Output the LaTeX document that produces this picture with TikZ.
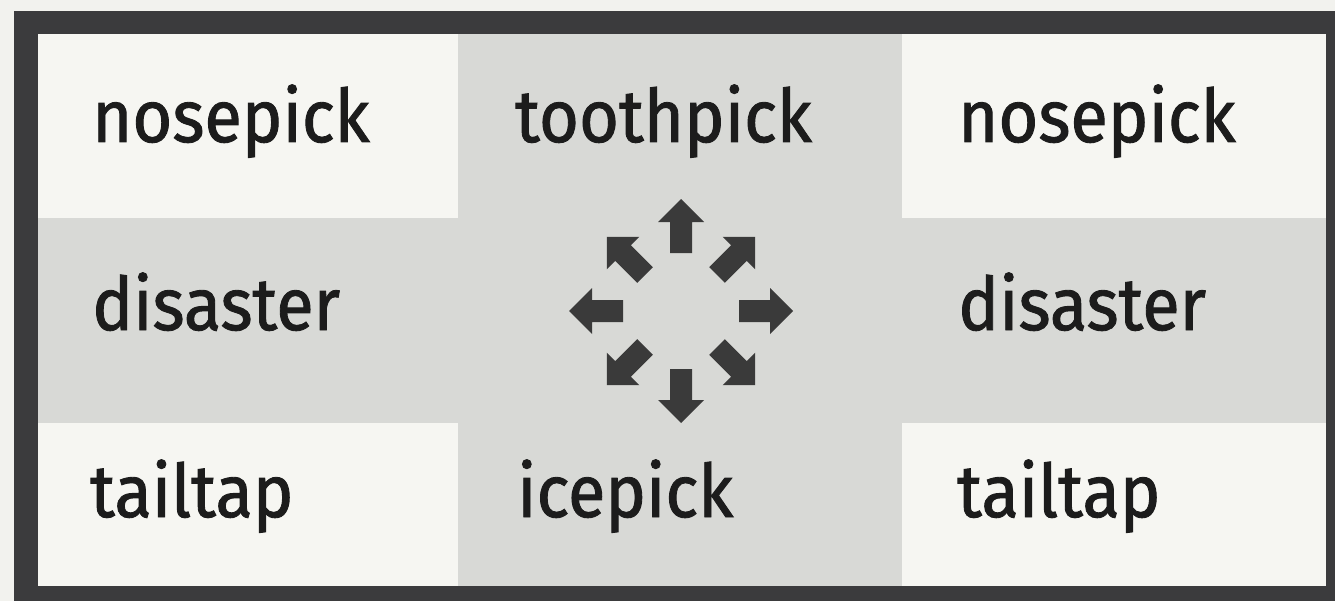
\documentclass[tikz,border=0pt]{standalone}
\usepackage{fontspec}
\setmainfont{Fira Sans}[FakeStretch=0.93,FakeBold=1.2]
\definecolor{paper}{HTML}{F2F2EE}
\definecolor{framec}{HTML}{3B3B3D}
\definecolor{cellw}{HTML}{F6F6F2}
\definecolor{cellg}{HTML}{D8D9D6}
\definecolor{arrowc}{HTML}{3A3A3A}
\definecolor{textc}{HTML}{1C1C1C}
\tikzset{
  lbl/.style={anchor=base west, inner sep=0pt, text=textc, font=\fontsize{74}{80}\selectfont},
  bigarrow/.pic={\fill[arrowc] (0,-11) -- (31,-11) -- (31,-23) -- (54,0) -- (31,23) -- (31,11) -- (0,11) -- cycle;}
}
\begin{document}
\begin{tikzpicture}[x=1bp,y=-1bp]
\useasboundingbox (0,0) rectangle (1335,601);
\clip (0,0) rectangle (1335,601);
\fill[paper] (0,0) rectangle (1335,601);
\fill[framec] (14,11) rectangle (1370,640);
\fill[cellw] (38,34) rectangle (1326,586);
\fill[cellg] (458,34) rectangle (902,586);
\fill[cellg] (38,218) rectangle (1326,423);
% labels
\node[lbl] (l1) at (92,142) {nosepick};
\node[lbl] (m1) at (515,142) {toothpick};
\node[lbl] (r1) at (958,142) {nosepick};
\node[lbl] (l2) at (92,330) {disaster};
\node[lbl] (r2) at (958,330) {disaster};
\node[lbl] (l3) at (90,517) {tailtap};
\node[lbl] (m3) at (517,517) {icepick};
\node[lbl] (r3) at (957,517) {tailtap};
% arrows
\coordinate (c) at (681,311);
\pic[rotate=0] at (739,311) {bigarrow};
\pic[rotate=90] at (681,253) {bigarrow};
\pic[rotate=180] at (623,311) {bigarrow};
\pic[rotate=-90] at (681,369) {bigarrow};
\pic[rotate=45] at (717,275) {bigarrow};
\pic[rotate=135] at (645,275) {bigarrow};
\pic[rotate=225] at (645,347) {bigarrow};
\pic[rotate=-45] at (717,347) {bigarrow};
\end{tikzpicture}
\end{document}
